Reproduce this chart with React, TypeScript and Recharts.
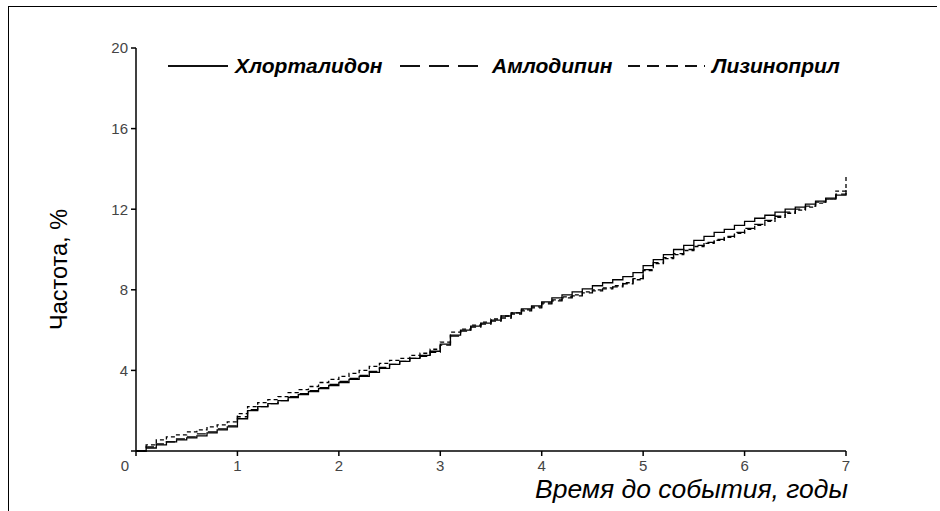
import { LineChart, Line, XAxis, YAxis, Legend } from "recharts";

// годы наблюдения
const YEARS = [
  0, 0.1, 0.2, 0.3, 0.4, 0.5, 0.6, 0.7, 0.8, 0.9,
  1, 1.1, 1.2, 1.3, 1.4, 1.5, 1.6, 1.7, 1.8, 1.9,
  2, 2.1, 2.2, 2.3, 2.4, 2.5, 2.6, 2.7, 2.8, 2.9,
  3, 3.1, 3.2, 3.3, 3.4, 3.5, 3.6, 3.7, 3.8, 3.9,
  4, 4.1, 4.2, 4.3, 4.4, 4.5, 4.6, 4.7, 4.8, 4.9,
  5, 5.1, 5.2, 5.3, 5.4, 5.5, 5.6, 5.7, 5.8, 5.9,
  6, 6.1, 6.2, 6.3, 6.4, 6.5, 6.6, 6.7, 6.8, 6.9,
  7,
];

const CHLORTHALIDONE = [
  0, 0.15, 0.3, 0.45, 0.55, 0.65, 0.75, 0.9, 1.05, 1.2,
  1.6, 2.0, 2.2, 2.35, 2.5, 2.65, 2.8, 2.95, 3.1, 3.25,
  3.4, 3.55, 3.7, 3.9, 4.1, 4.3, 4.45, 4.6, 4.75, 4.95,
  5.3, 5.75, 6.0, 6.2, 6.35, 6.5, 6.7, 6.85, 7.05, 7.2,
  7.4, 7.6, 7.75, 7.9, 8.05, 8.2, 8.35, 8.5, 8.65, 8.85,
  9.2, 9.5, 9.75, 10.0, 10.2, 10.45, 10.65, 10.85, 11.0, 11.2,
  11.4, 11.55, 11.7, 11.85, 12.0, 12.1, 12.25, 12.4, 12.55, 12.7,
  12.8,
];

const AMLODIPINE = [
  0, 0.2, 0.35, 0.45, 0.6, 0.7, 0.85, 0.95, 1.1, 1.25,
  1.7, 2.05, 2.2, 2.35, 2.5, 2.7, 2.85, 3.0, 3.15, 3.3,
  3.45, 3.6, 3.75, 3.95, 4.15, 4.3, 4.45, 4.6, 4.7, 4.9,
  5.25, 5.7, 5.95, 6.15, 6.3, 6.45, 6.6, 6.8, 6.95, 7.1,
  7.3, 7.45, 7.6, 7.7, 7.85, 7.95, 8.05, 8.15, 8.3, 8.55,
  9.0, 9.35, 9.6, 9.8, 10.0, 10.2, 10.35, 10.5, 10.65, 10.85,
  11.05, 11.25, 11.45, 11.65, 11.85, 12.0, 12.15, 12.35, 12.5, 12.75,
  13.1,
];

const LISINOPRIL = [
  0, 0.3, 0.55, 0.7, 0.8, 0.95, 1.05, 1.2, 1.3, 1.45,
  1.85, 2.2, 2.4, 2.55, 2.7, 2.9, 3.05, 3.2, 3.4, 3.55,
  3.7, 3.85, 4.0, 4.2, 4.35, 4.5, 4.6, 4.75, 4.85, 5.05,
  5.4, 5.9, 6.05, 6.25, 6.4, 6.55, 6.7, 6.85, 7.0, 7.15,
  7.35, 7.5, 7.65, 7.75, 7.9, 8.0, 8.1, 8.2, 8.35, 8.5,
  8.95, 9.3, 9.55, 9.75, 9.95, 10.15, 10.3, 10.45, 10.6, 10.8,
  11.0, 11.2, 11.4, 11.6, 11.8, 11.95, 12.1, 12.3, 12.5, 12.9,
  13.6,
];

const X_TICKS = [0, 1, 2, 3, 4, 5, 6, 7];
const Y_TICKS = [0, 4, 8, 12, 16, 20];

const SERIES = [
  { key: "chlor", name: "Хлорталидон", dash: undefined, legendDash: undefined, values: CHLORTHALIDONE },
  { key: "amlo", name: "Амлодипин", dash: "9 4", legendDash: "20 9", values: AMLODIPINE },
  { key: "lisin", name: "Лизиноприл", dash: "4 3", legendDash: "12 7", values: LISINOPRIL },
];

const FONT = "'Liberation Sans', Arial, sans-serif";

const chartData = YEARS.map((t, i) => {
  const point: Record<string, number> = { t };
  for (const s of SERIES) point[s.key] = s.values[i];
  return point;
});

function XTick(props: any) {
  const { x, y, payload } = props;
  const dx = payload.value === 0 ? -11 : 0;
  return (
    <text x={x + dx} y={y + 13} textAnchor="middle" fontSize={15} fill="#444" fontFamily={FONT}>
      {payload.value}
    </text>
  );
}

function LegendContent() {
  // sample width, text width, gap after item
  const sampleW = [60, 85, 77];
  const textW = [153, 128, 128];
  const gapAfter = [12, 8, 0];
  return (
    <div style={{ display: "flex", alignItems: "center", fontFamily: FONT, whiteSpace: "nowrap" }}>
      {SERIES.map((s, i) => (
        <div key={s.key} style={{ display: "flex", alignItems: "center", marginRight: gapAfter[i] }}>
          <svg width={sampleW[i]} height={6} style={{ marginRight: 7 }}>
            <line x1={0} y1={3} x2={sampleW[i]} y2={3} stroke="#111" strokeWidth={2} strokeDasharray={s.legendDash} />
          </svg>
          <span style={{ display: "inline-block", width: textW[i], fontSize: 21, fontWeight: "bold", fontStyle: "italic", color: "#000" }}>
            {s.name}
          </span>
        </div>
      ))}
    </div>
  );
}

export default function App() {
  return (
    <div style={{ position: "absolute", left: 0, top: 0, width: 940, height: 511, background: "#fff" }}>
      <div style={{ position: "absolute", left: 8, top: 6, width: 928, height: 505, borderTop: "1.5px solid #000", borderLeft: "1.5px solid #000" }} />
      <LineChart
        width={940}
        height={511}
        data={chartData}
        margin={{ top: 48, right: 94, bottom: 30, left: 76 }}
        style={{ position: "absolute", left: 0, top: 0 }}
      >
        <XAxis
          dataKey="t"
          type="number"
          domain={[0, 7]}
          ticks={X_TICKS}
          height={30}
          stroke="#000"
          strokeWidth={1.5}
          tickSize={5}
          tick={<XTick />}
          label={{
            content: ({ viewBox }: any) => (
              <text
                x={viewBox.x + viewBox.width + 2}
                y={viewBox.y + 47}
                textAnchor="end"
                fontSize={26.5}
                fontStyle="italic"
                fontFamily={FONT}
                fill="#000"
              >
                Время до события, годы
              </text>
            ),
          }}
        />
        <YAxis
          type="number"
          domain={[0, 20]}
          ticks={Y_TICKS}
          width={60}
          stroke="#000"
          strokeWidth={1.5}
          tickSize={5}
          tickMargin={3}
          tick={{ fontSize: 15, fill: "#444", fontFamily: FONT }}
          tickFormatter={(v: number) => (v === 0 ? "" : String(v))}
          label={{
            content: ({ viewBox }: any) => {
              const cx = viewBox.x - 9;
              const cy = viewBox.y + viewBox.height / 2 + 20;
              return (
                <text
                  x={cx}
                  y={cy}
                  transform={`rotate(-90, ${cx}, ${cy})`}
                  textAnchor="middle"
                  fontSize={23.5}
                  fontFamily={FONT}
                  fill="#000"
                >
                  Частота, %
                </text>
              );
            },
          }}
        />
        <Legend
          layout="horizontal"
          verticalAlign="middle"
          align="center"
          content={<LegendContent />}
          wrapperStyle={{ top: 54, left: 168, width: "auto" }}
        />
        {SERIES.map((s) => (
          <Line
            key={s.key}
            type="stepAfter"
            dataKey={s.key}
            name={s.name}
            stroke="#000"
            strokeWidth={1.3}
            strokeDasharray={s.dash}
            dot={false}
            isAnimationActive={false}
          />
        ))}
      </LineChart>
    </div>
  );
}
